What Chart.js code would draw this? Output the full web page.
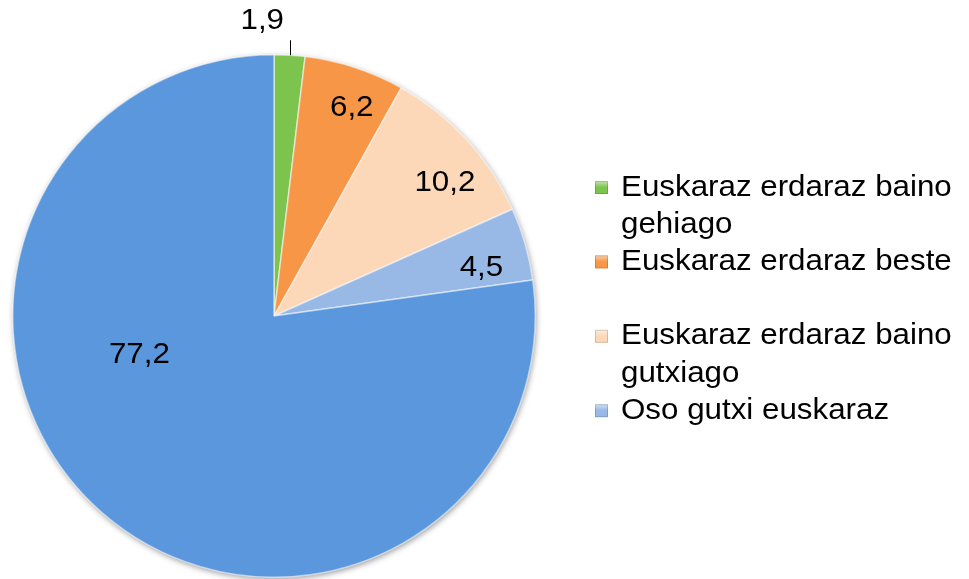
<!DOCTYPE html>
<html>
<head>
<meta charset="utf-8">
<script src="https://cdn.jsdelivr.net/npm/chart.js@4.4.1/dist/chart.umd.min.js"></script>
<style>
    html, body { margin: 0; padding: 0; background: #ffffff; }
    #wrap { width: 969px; height: 579px; position: relative; }
</style>
</head>
<body>
<div id="wrap"><canvas id="pieChart"></canvas></div>
<script>
// Chart data
var categories = [
    ['Euskaraz erdaraz baino', 'gehiago'],
    ['Euskaraz erdaraz beste', ''],
    ['Euskaraz erdaraz baino', 'gutxiago'],
    ['Oso gutxi euskaraz']
];
var sliceLabels = ['Euskaraz erdaraz baino gehiago', 'Euskaraz erdaraz beste',
    'Euskaraz erdaraz baino gutxiago', 'Oso gutxi euskaraz', ''];
var values = [1.9, 6.2, 10.2, 4.5, 77.2];
var valueTexts = ['1,9', '6,2', '10,2', '4,5', '77,2'];
var sliceColors = ['#7dc44f', '#f79646', '#fcd7b8', '#98b9e6', '#5b97dd'];

// where the value labels sit: fraction of radius and angle shift (degrees) from the slice middle
var labelPlace = [
    { r: 1.13, shift: -5.7, leader: true },
    { r: 0.85, shift: 2.5 },
    { r: 0.83, shift: 4.5 },
    { r: 0.815, shift: 3 },
    { r: 0.536, shift: 33 }
];

var FONT = '29px "Liberation Sans", Arial, sans-serif';
var STRETCH = 1.08; // the original text is a bit wider than plain Arial

function drawText(ctx, txt, x, y, align) {
    ctx.save();
    ctx.translate(x, y);
    ctx.scale(STRETCH, 1);
    ctx.textAlign = align;
    ctx.fillText(txt, 0, 0);
    ctx.restore();
}

// soft shadow below the whole pie
var pieShadow = {
    id: 'pieShadow',
    beforeDatasetsDraw: function (chart) {
        var arc = chart.getDatasetMeta(0).data[0];
        if (!arc) return;
        var ctx = chart.ctx;
        ctx.save();
        ctx.shadowColor = 'rgba(0,0,0,0.45)';
        ctx.shadowBlur = 6;
        ctx.shadowOffsetX = 1;
        ctx.shadowOffsetY = 2;
        ctx.fillStyle = sliceColors[4];
        ctx.beginPath();
        ctx.arc(arc.x, arc.y, arc.outerRadius - 0.5, 0, Math.PI * 2);
        ctx.fill();
        ctx.restore();
    }
};

// value labels on the slices
var valueLabels = {
    id: 'valueLabels',
    afterDatasetsDraw: function (chart) {
        var ctx = chart.ctx;
        var meta = chart.getDatasetMeta(0);
        ctx.save();
        ctx.font = FONT;
        ctx.fillStyle = '#000000';
        ctx.textBaseline = 'middle';
        meta.data.forEach(function (arc, i) {
            var p = labelPlace[i];
            var mid = (arc.startAngle + arc.endAngle) / 2;
            var a = mid + p.shift * Math.PI / 180;
            var x = arc.x + Math.cos(a) * arc.outerRadius * p.r;
            var y = arc.y + Math.sin(a) * arc.outerRadius * p.r;
            if (p.leader) {
                var ex = arc.x + Math.cos(mid) * arc.outerRadius;
                var ey = arc.y + Math.sin(mid) * arc.outerRadius;
                ctx.strokeStyle = '#000000';
                ctx.lineWidth = 1;
                ctx.beginPath();
                ctx.moveTo(Math.round(ex) + 0.5, ey);
                ctx.lineTo(Math.round(ex) + 0.5, ey - 15);
                ctx.stroke();
            }
            drawText(ctx, valueTexts[i], x, y, 'center');
        });
        ctx.restore();
    }
};

// legend on the right, labels wrap over two lines like the original
var sideLegend = {
    id: 'sideLegend',
    afterDraw: function (chart) {
        var ctx = chart.ctx;
        var lineH = 37.2;
        var top = 187.5;
        var boxX = 595, textX = 621, box = 13;
        ctx.save();
        ctx.font = FONT;
        ctx.textBaseline = 'middle';
        var row = 0;
        categories.forEach(function (lines, i) {
            var y = top + row * lineH;
            var grad = ctx.createLinearGradient(0, y - box / 2, 0, y + box / 2);
            grad.addColorStop(0, 'rgba(255,255,255,0.55)');
            grad.addColorStop(0.5, 'rgba(255,255,255,0)');
            ctx.fillStyle = sliceColors[i];
            ctx.fillRect(boxX, y - box / 2, box, box);
            ctx.fillStyle = grad;
            ctx.fillRect(boxX, y - box / 2, box, box);
            ctx.strokeStyle = 'rgba(0,0,0,0.15)';
            ctx.lineWidth = 1;
            ctx.strokeRect(boxX + 0.5, y - box / 2 + 0.5, box - 1, box - 1);
            ctx.fillStyle = '#000000';
            lines.forEach(function (t, k) {
                if (t) drawText(ctx, t, textX, y + k * lineH, 'left');
            });
            row += 2;
        });
        ctx.restore();
    }
};

var chart = new Chart(document.getElementById('pieChart'), {
    type: 'pie',
    data: {
        labels: sliceLabels,
        datasets: [{
            data: values,
            backgroundColor: sliceColors,
            borderColor: 'rgba(255,255,255,0.55)',
            borderWidth: 1.5
        }]
    },
    options: {
        responsive: true,
        maintainAspectRatio: false,
        animation: false,
        layout: {
            padding: { left: 12, top: 54, right: 433, bottom: 1 }
        },
        plugins: {
            legend: { display: false },
            tooltip: { enabled: false }
        }
    },
    plugins: [pieShadow, valueLabels, sideLegend]
});
</script>
</body>
</html>
